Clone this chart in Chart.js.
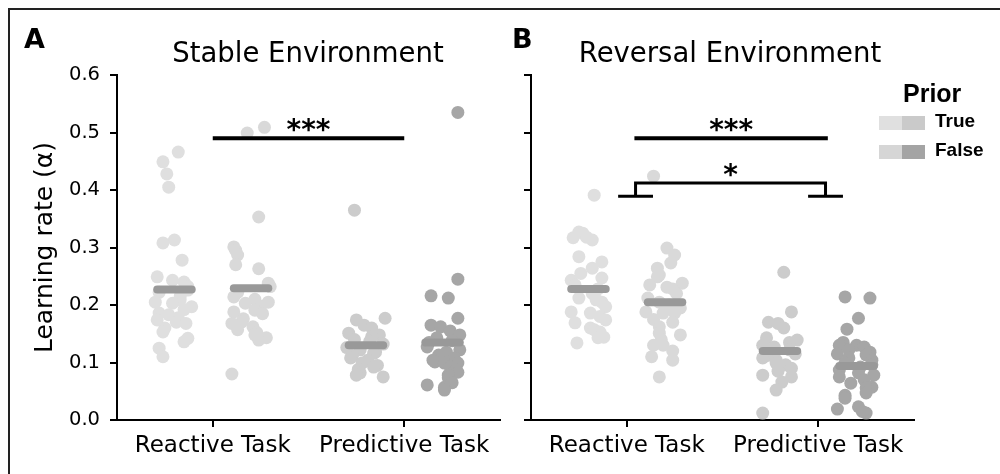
<!DOCTYPE html>
<html>
<head>
<meta charset="utf-8">
<script src="https://cdn.jsdelivr.net/npm/chart.js@4.4.1/dist/chart.umd.min.js"></script>
<style>
  html, body { margin: 0; padding: 0; background: #fff; }
  #wrap { position: relative; width: 1000px; height: 474px; overflow: hidden; font-family: 'DejaVu Sans', sans-serif; color: #000; }
  #frame { position: absolute; left: 8px; top: 8px; width: 1100px; height: 600px; border: 2px solid #222; }
  canvas { position: absolute; left: 0; top: 0; }
  .letter { position: absolute; font-weight: bold; font-size: 27px; line-height: 27px; }
  .ttl { position: absolute; font-size: 27.5px; line-height: 27px; white-space: nowrap; transform: translateX(-50%); }
  .leg { position: absolute; font-family: 'Liberation Sans', Arial, sans-serif; font-weight: bold; white-space: nowrap; }
  .sw { position: absolute; width: 23px; height: 14px; }
</style>
</head>
<body>
<div id="wrap">
  <div id="frame"></div>
  <canvas id="chart-a" width="1000" height="474"></canvas>
  <canvas id="chart-b" width="1000" height="474"></canvas>
  <div class="letter" style="left:24px; top:25px;">A</div>
  <div class="letter" style="left:512px; top:25px;">B</div>
  <div class="ttl" style="left:308px; top:39px;">Stable Environment</div>
  <div class="ttl" style="left:730px; top:39px;">Reversal Environment</div>
  <div id="legend"></div>
</div>
<script>
/* ── data ─────────────────────────────────────────────────────── */
const CATEGORIES = ['Reactive Task', 'Predictive Task'];
const PRIOR = ['True', 'False'];
const Y_TICKS = [0, 0.1, 0.2, 0.3, 0.4, 0.5, 0.6];

// Stable environment (A)
const A_REACT_TRUE = [0.466, 0.449, 0.428, 0.405, 0.313, 0.308, 0.278, 0.249, 0.243, 0.240, 0.232, 0.226, 0.222, 0.215, 0.209, 0.205, 0.203, 0.197, 0.192, 0.186, 0.183, 0.178, 0.174, 0.170, 0.168, 0.160, 0.153, 0.142, 0.136, 0.125, 0.110];
const A_REACT_TRUE_JIT = [0.02, -0.06, -0.04, -0.03, 0, -0.06, 0.04, -0.09, -0.01, 0.05, 0.07, 0.07, -0.08, 0.03, 0.03, -0.10, -0.01, 0.09, 0.05, -0.08, -0.03, 0.02, -0.09, 0.01, 0.06, -0.05, -0.06, 0.07, 0.05, -0.08, -0.06];
const A_REACT_FALSE = [0.509, 0.499, 0.353, 0.301, 0.295, 0.287, 0.270, 0.263, 0.238, 0.232, 0.222, 0.214, 0.210, 0.205, 0.203, 0.198, 0.191, 0.188, 0.185, 0.176, 0.170, 0.168, 0.162, 0.157, 0.152, 0.148, 0.143, 0.139, 0.080];
const A_REACT_FALSE_JIT = [0.07, -0.02, 0.04, -0.09, -0.08, -0.07, -0.08, 0.04, 0.09, 0.10, -0.07, -0.09, 0.02, 0.09, -0.03, 0.05, 0.02, -0.09, 0.06, -0.04, -0.05, -0.10, 0.01, -0.07, 0.03, 0.02, 0.08, 0.04, -0.10];
const A_PRED_TRUE = [0.365, 0.177, 0.174, 0.165, 0.160, 0.151, 0.148, 0.145, 0.140, 0.137, 0.132, 0.126, 0.122, 0.118, 0.116, 0.112, 0.108, 0.104, 0.099, 0.095, 0.092, 0.088, 0.082, 0.078, 0.075];
const A_PRED_TRUE_JIT = [-0.06, 0.10, -0.05, -0.01, 0.03, -0.09, 0.07, 0.03, -0.06, 0.02, 0.09, -0.10, -0.03, 0.05, 0.04, -0.07, -0.08, 0.01, -0.02, 0.06, 0.04, -0.04, -0.03, -0.05, 0.09];
const A_PRED_FALSE = [0.535, 0.245, 0.216, 0.212, 0.177, 0.165, 0.162, 0.155, 0.148, 0.143, 0.138, 0.135, 0.127, 0.122, 0.118, 0.113, 0.108, 0.104, 0.101, 0.099, 0.099, 0.092, 0.087, 0.083, 0.078, 0.073, 0.065, 0.061, 0.057, 0.052];
const A_PRED_FALSE_JIT = [0.08, 0.08, -0.06, 0.03, 0.08, -0.06, -0.01, 0.04, 0.09, -0.03, 0.05, -0.07, -0.08, 0.09, 0.02, -0.02, 0.06, -0.05, -0.04, 0.01, 0.08, 0.04, 0.07, 0.08, 0.03, 0.03, 0.05, -0.08, 0.01, 0.01];
const A_MEDIANS = [0.227, 0.229, 0.130, 0.135];

// Reversal environment (B)
const B_REACT_TRUE = [0.391, 0.327, 0.325, 0.318, 0.317, 0.313, 0.284, 0.275, 0.264, 0.255, 0.247, 0.243, 0.235, 0.228, 0.220, 0.212, 0.209, 0.205, 0.197, 0.188, 0.186, 0.180, 0.174, 0.169, 0.160, 0.157, 0.153, 0.144, 0.143, 0.134];
const B_REACT_TRUE_JIT = [0.03, -0.05, -0.03, -0.01, -0.08, 0.02, -0.05, 0.07, 0.02, -0.04, 0.07, -0.09, -0.07, 0.05, 0.02, -0.05, 0.04, 0.07, 0.09, -0.09, 0.01, 0.06, 0.09, -0.07, 0.01, 0.03, 0.06, 0.08, 0.05, -0.06];
const B_REACT_FALSE = [0.424, 0.299, 0.287, 0.273, 0.264, 0.252, 0.249, 0.238, 0.235, 0.231, 0.228, 0.220, 0.212, 0.205, 0.200, 0.195, 0.188, 0.186, 0.186, 0.175, 0.170, 0.162, 0.151, 0.148, 0.140, 0.130, 0.130, 0.120, 0.110, 0.104, 0.075];
const B_REACT_FALSE_JIT = [-0.06, 0.01, 0.05, 0.03, -0.04, -0.03, -0.04, 0.09, -0.08, 0.01, 0.04, 0.06, -0.09, -0.03, 0.02, 0.08, -0.10, -0.01, 0.05, -0.06, 0.04, -0.03, -0.03, 0.08, -0.02, -0.06, -0.01, 0.04, -0.07, 0.04, -0.03];
const B_PRED_TRUE = [0.257, 0.188, 0.170, 0.168, 0.160, 0.143, 0.139, 0.135, 0.130, 0.127, 0.122, 0.115, 0.112, 0.108, 0.104, 0.099, 0.096, 0.090, 0.085, 0.078, 0.075, 0.066, 0.052, 0.012];
const B_PRED_TRUE_JIT = [0.02, 0.06, -0.06, -0.01, 0.02, -0.07, 0.09, 0.05, -0.09, -0.03, 0.05, 0.08, -0.07, -0.09, -0.02, -0.02, 0.03, 0.06, -0.01, -0.09, 0.06, 0.01, -0.02, -0.09];
const B_PRED_FALSE = [0.214, 0.212, 0.177, 0.158, 0.135, 0.130, 0.130, 0.127, 0.122, 0.118, 0.115, 0.113, 0.108, 0.104, 0.099, 0.096, 0.092, 0.087, 0.082, 0.078, 0.075, 0.070, 0.064, 0.057, 0.056, 0.047, 0.043, 0.038, 0.023, 0.019, 0.012, 0.015];
const B_PRED_FALSE_JIT = [-0.06, 0.07, 0.01, -0.05, -0.07, -0.09, 0, 0.04, -0.04, 0.07, -0.10, 0.05, -0.04, 0.08, -0.06, 0.08, 0.02, -0.09, 0.01, 0.09, -0.09, 0.04, -0.03, 0.08, 0.05, 0.05, -0.06, -0.06, 0.01, -0.10, 0.05, 0.03];
const B_MEDIANS = [0.228, 0.205, 0.120, 0.094];

// significance annotations (data coords)
const SIG_A = [{ x0: 0, x1: 1, y: 0.49, label: '***' }];
const SIG_B = [
  { x0: 0.04, x1: 1.05, y: 0.49, label: '***' },
  { x0: 0.046, x1: 1.038, y: 0.412, foot: 0.389, footHalf: 0.091, label: '*' }
];

/* ── style ────────────────────────────────────────────────────── */
// strip order: reactive/true, reactive/false, predictive/true, predictive/false
const STRIP_COLORS = ['#dfdfdf', '#d9d9d9', '#cccccc', '#a6a6a6'];
const LEGEND_COLORS = [['#e0e0e0', '#cacaca'], ['#d6d6d6', '#a4a4a4']];
const MEDIAN_COLOR = '#999999';
const HUE_OFFSET = 0.2;
const MEDIAN_HALF = 0.09;

function sigPlugin(marks) {
  return {
    id: 'sig',
    afterDatasetsDraw(chart) {
      const { ctx, scales: { x, y } } = chart;
      const unit = x.getPixelForValue(1) - x.getPixelForValue(0);
      ctx.save();
      ctx.strokeStyle = '#000';
      ctx.fillStyle = '#000';
      marks.forEach(m => {
        const p0 = x.getPixelForValue(m.x0), p1 = x.getPixelForValue(m.x1), py = y.getPixelForValue(m.y);
        ctx.beginPath();
        if (m.foot != null) {
          const pf = y.getPixelForValue(m.foot), hw = m.footHalf * unit;
          ctx.lineWidth = 3;
          ctx.moveTo(p0, pf); ctx.lineTo(p0, py); ctx.lineTo(p1, py); ctx.lineTo(p1, pf);
          ctx.moveTo(p0 - hw, pf); ctx.lineTo(p0 + hw, pf);
          ctx.moveTo(p1 - hw, pf); ctx.lineTo(p1 + hw, pf);
        } else {
          ctx.lineWidth = 4;
          ctx.moveTo(p0, py); ctx.lineTo(p1, py);
        }
        ctx.stroke();
        ctx.font = 'bold 28px "DejaVu Sans"';
        ctx.textAlign = 'center';
        ctx.textBaseline = 'alphabetic';
        ctx.fillText(m.label, (p0 + p1) / 2, py + 1);
      });
      ctx.restore();
    }
  };
}

function makePanel(id, strips, medians, marks, cfg) {
  const datasets = [];
  strips.forEach(([vals, jit], g) => {
    const center = Math.floor(g / 2) + (g % 2 ? HUE_OFFSET : -HUE_OFFSET);
    datasets.push({
      data: vals.map((v, i) => ({ x: center + jit[i], y: v })),
      backgroundColor: STRIP_COLORS[g],
      pointRadius: 6.5, pointBorderWidth: 0, pointHoverRadius: 6.5,
      order: 2
    });
  });
  medians.forEach((m, g) => {
    const center = Math.floor(g / 2) + (g % 2 ? HUE_OFFSET : -HUE_OFFSET);
    datasets.push({
      data: [{ x: center - MEDIAN_HALF, y: m }, { x: center + MEDIAN_HALF, y: m }],
      showLine: true, borderColor: MEDIAN_COLOR, borderWidth: 8, borderCapStyle: 'round',
      pointRadius: 0, order: 1
    });
  });

  return new Chart(document.getElementById(id), {
    type: 'scatter',
    data: { datasets },
    options: {
      responsive: false, animation: false, devicePixelRatio: 1,
      layout: { padding: { top: 75, left: cfg.padLeft, right: cfg.padRight, bottom: 0 } },
      plugins: { legend: { display: false }, tooltip: { enabled: false } },
      scales: {
        x: {
          type: 'linear', min: -0.5, max: 1.5,
          afterBuildTicks: s => { s.ticks = CATEGORIES.map((c, i) => ({ value: i })); },
          afterFit: s => { s.height = 54; },
          ticks: { callback: v => CATEGORIES[v], autoSkip: false, maxRotation: 0, padding: 5, color: '#000', font: { family: 'DejaVu Sans', size: 23 } },
          grid: { drawOnChartArea: false, tickLength: 7, lineWidth: 2, color: '#000' },
          border: { color: '#000', width: 2 }
        },
        y: {
          min: 0, max: 0.6,
          afterBuildTicks: s => { s.ticks = Y_TICKS.map(v => ({ value: v })); },
          afterFit: s => { s.width = cfg.yWidth; },
          ticks: { callback: v => cfg.yLabels ? v.toFixed(1) : '', padding: 10, color: '#000', font: { family: 'DejaVu Sans', size: 19.5 } },
          grid: { drawOnChartArea: false, tickLength: 7, lineWidth: 2, color: '#000' },
          border: { color: '#000', width: 2 },
          title: { display: !!cfg.yTitle, text: cfg.yTitle || '', color: '#000', padding: { top: 30, bottom: 0 }, font: { family: 'DejaVu Sans', size: 25 } }
        }
      }
    },
    plugins: [sigPlugin(marks)]
  });
}

makePanel('chart-a',
  [[A_REACT_TRUE, A_REACT_TRUE_JIT], [A_REACT_FALSE, A_REACT_FALSE_JIT], [A_PRED_TRUE, A_PRED_TRUE_JIT], [A_PRED_FALSE, A_PRED_FALSE_JIT]],
  A_MEDIANS, SIG_A,
  { padLeft: 0, padRight: 500, yWidth: 117, yLabels: true, yTitle: 'Learning rate (α)' });

makePanel('chart-b',
  [[B_REACT_TRUE, B_REACT_TRUE_JIT], [B_REACT_FALSE, B_REACT_FALSE_JIT], [B_PRED_TRUE, B_PRED_TRUE_JIT], [B_PRED_FALSE, B_PRED_FALSE_JIT]],
  B_MEDIANS, SIG_B,
  { padLeft: 500, padRight: 86, yWidth: 31, yLabels: false });

// legend "Prior"
const leg = document.getElementById('legend');
leg.innerHTML = `<div class="leg" style="left:903px; top:81px; font-size:25px; line-height:25px;">Prior</div>` +
  PRIOR.map((p, i) => {
    const top = i === 0 ? 116 : 145;
    return `<div class="sw" style="left:879px; top:${top}px; background:${LEGEND_COLORS[i][0]};"></div>` +
      `<div class="sw" style="left:902px; top:${top}px; background:${LEGEND_COLORS[i][1]};"></div>` +
      `<div class="leg" style="left:935px; top:${top - 5}px; font-size:19px; line-height:19px;">${p}</div>`;
  }).join('');
</script>
</body>
</html>
